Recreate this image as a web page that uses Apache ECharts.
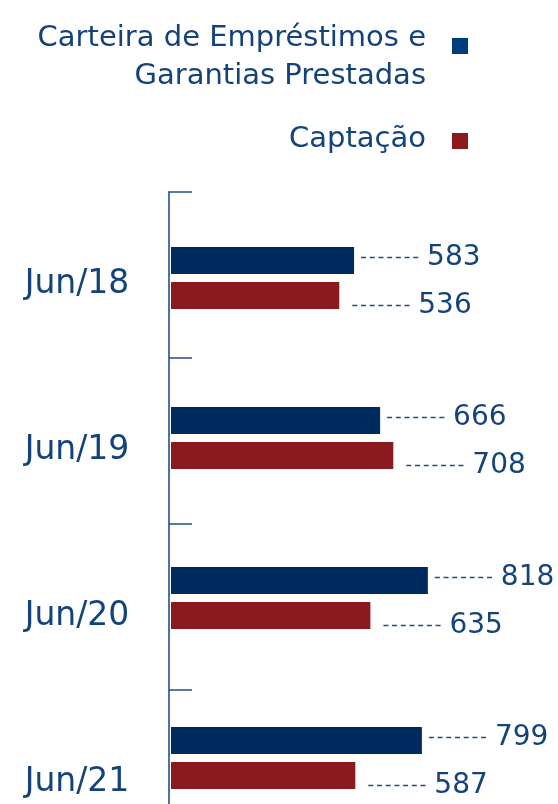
<!DOCTYPE html>
<html>
<head>
<meta charset="utf-8">
<script src="https://cdn.jsdelivr.net/npm/echarts@6/dist/echarts.min.js"></script>
<style>
html, body { margin: 0; padding: 0; background: #fff; }
#main { width: 558px; height: 804px; }
</style>
</head>
<body>
<div id="main"></div>
<script>
var categories = ['Jun/18', 'Jun/19', 'Jun/20', 'Jun/21'];
var carteira = [583, 666, 818, 799];
var captacao = [536, 708, 635, 587];
var nomeCarteira = 'Carteira de Empréstimos e\nGarantias Prestadas';
var nomeCaptacao = 'Captação';

var textColor = '#14437b';
var myChart = echarts.init(document.getElementById('main'));

function pairs(values){
	var out = [];
	for (var i = 0; i < values.length; i++){
		out.push([values[i], i]);
	}
	return out;
}

// dashed leader + value, placed after the end of each bar
function leader(dy, gap){
	return function(params, api){
		var end = api.coord([api.value(0), api.value(1)]);
		var x = end[0] + gap;
		var y = end[1] + dy;
		return {
			type: 'group',
			children: [{
				type: 'line',
				shape: {x1: x, y1: y, x2: x + 58, y2: y},
				style: {stroke: '#1d4c86', lineWidth: 1.6, lineDash: [5, 3.7]}
			}, {
				type: 'text',
				style: {
					x: x + 66, y: y,
					text: String(api.value(0)),
					fill: textColor,
					font: '28px "DejaVu Sans"',
					verticalAlign: 'middle'
				}
			}]
		};
	};
}

// category names, centred in each band of the tick axis
function categoryLabel(params, api){
	var i = api.value(1);
	var p = api.coord([0, i + 0.5]);
	return {
		type: 'text',
		style: {
			x: p[0] - 92, y: p[1] + 9,
			text: categories[i],
			fill: textColor,
			font: '33px "DejaVu Sans"',
			align: 'center',
			verticalAlign: 'middle'
		}
	};
}

var option = {
	animation: false,
	textStyle: {fontFamily: 'DejaVu Sans'},
	legend: {
		orient: 'vertical',
		align: 'right',
		right: 90,
		top: 19,
		padding: 0,
		itemWidth: 37,
		itemHeight: 38,
		itemGap: 25,
		textStyle: {fontSize: 29, lineHeight: 38, color: textColor},
		data: [{
			name: nomeCarteira,
			icon: 'path://M21,0h16v16h-16z M0,0h0.01v0.01h-0.01z M0,37.99h0.01v0.01h-0.01z',
			itemStyle: {color: '#003d7c'}
		}, {
			name: nomeCaptacao,
			icon: 'path://M21,13h16v16h-16z M0,0h0.01v0.01h-0.01z M0,37.99h0.01v0.01h-0.01z',
			itemStyle: {color: '#8c1820'}
		}]
	},
	grid: [
		// bar grid: categories sit on points, first at 278, last at 758
		{left: 171, top: 278, width: 314, height: 480, outerBoundsMode: 'none'},
		// tick grid: one unit per category band, runs to the page bottom
		{left: 169, top: 192, width: 314, height: 614, outerBoundsMode: 'none'}
	],
	xAxis: [
		{gridIndex: 0, type: 'value', min: 0, max: 1000, show: false},
		{gridIndex: 1, type: 'value', min: 0, max: 1, show: false}
	],
	yAxis: [{
		gridIndex: 0,
		type: 'category',
		data: categories,
		boundaryGap: false,
		inverse: true,
		show: false
	}, {
		gridIndex: 1,
		type: 'value',
		inverse: true,
		min: 0,
		max: 614 / 166,
		interval: 1,
		splitLine: {show: false},
		axisLine: {show: true, lineStyle: {color: '#4d72a3', width: 2}},
		axisTick: {show: true, inside: true, length: 23, lineStyle: {color: '#1f4f8e', width: 1.5}},
		axisLabel: {show: false}
	}],
	series: [{
		name: nomeCarteira,
		type: 'bar',
		xAxisIndex: 0,
		yAxisIndex: 0,
		clip: false,
		data: carteira,
		barWidth: 27,
		barGap: '30%',
		itemStyle: {color: '#002b5e'}
	}, {
		name: nomeCaptacao,
		type: 'bar',
		xAxisIndex: 0,
		yAxisIndex: 0,
		clip: false,
		data: captacao,
		barWidth: 27,
		itemStyle: {color: '#8c1820'}
	}, {
		type: 'custom',
		xAxisIndex: 0,
		yAxisIndex: 0,
		silent: true,
		encode: {x: 0, y: 1},
		data: pairs(carteira),
		renderItem: leader(-20.5, 7)
	}, {
		type: 'custom',
		xAxisIndex: 0,
		yAxisIndex: 0,
		silent: true,
		encode: {x: 0, y: 1},
		data: pairs(captacao),
		renderItem: leader(27.5, 13)
	}, {
		type: 'custom',
		xAxisIndex: 1,
		yAxisIndex: 1,
		silent: true,
		encode: {x: 0, y: 1},
		data: pairs([0, 0, 0, 0]),
		renderItem: categoryLabel
	}]
};

myChart.setOption(option);
</script>
</body>
</html>
